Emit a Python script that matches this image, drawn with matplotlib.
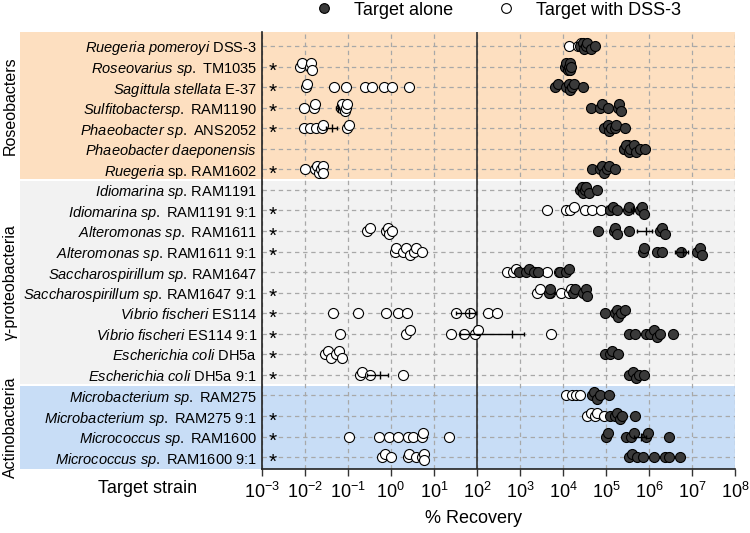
import matplotlib
matplotlib.use("Agg")
import matplotlib.pyplot as plt
from matplotlib.lines import Line2D
from matplotlib.patches import Rectangle
import numpy as np

plt.rcParams['font.family'] = ['Liberation Sans', 'DejaVu Sans']
plt.rcParams['mathtext.fontset'] = 'custom'
plt.rcParams['mathtext.rm'] = 'Liberation Sans'
plt.rcParams['mathtext.it'] = 'Liberation Sans:italic'
plt.rcParams['mathtext.bf'] = 'Liberation Sans:bold'

#----------------データ-------------------
strains = [
    r'$\mathit{Ruegeria\ pomeroyi}$ DSS-3',
    r'$\mathit{Roseovarius\ sp.}$ TM1035',
    r'$\mathit{Sagittula\ stellata}$ E-37',
    r'$\mathit{Sulfitobactersp.}$ RAM1190',
    r'$\mathit{Phaeobacter\ sp.}$ ANS2052',
    r'$\mathit{Phaeobacter\ daeponensis}$',
    r'$\mathit{Ruegeria}$ sp. RAM1602',
    r'$\mathit{Idiomarina\ sp}$. RAM1191',
    r'$\mathit{Idiomarina\ sp.}$ RAM1191 9:1',
    r'$\mathit{Alteromonas\ sp.}$ RAM1611',
    r'$\mathit{Alteromonas\ sp}$. RAM1611 9:1',
    r'$\mathit{Saccharospirillum\ sp}$. RAM1647',
    r'$\mathit{Saccharospirillum\ sp}$. RAM1647 9:1',
    r'$\mathit{Vibrio\ fischeri}$ ES114',
    r'$\mathit{Vibrio\ fischeri}$ ES114 9:1',
    r'$\mathit{Escherichia\ coli}$ DH5a',
    r'$\mathit{Escherichia\ coli}$ DH5a 9:1',
    r'$\mathit{Microbacterium\ sp.}$ RAM275',
    r'$\mathit{Microbacterium\ sp.}$ RAM275 9:1',
    r'$\mathit{Micrococcus\ sp.}$ RAM1600',
    r'$\mathit{Micrococcus\ sp.}$ RAM1600 9:1',
]

signif = [False, True, True, True, True, False, True,
          False, True, True, True, False, True, True, True, True, True,
          False, True, True, True]

groups = ['Roseobacters', 'γ-proteobacteria', 'Actinobacteria']
group_rows = [(0, 6), (7, 16), (17, 20)]
group_colors = ['#fddfc0', '#f2f2f2', '#c8ddf6']

# % recovery, target alone
alone = [
    [2.5e4, 2.9e4, 3.1e4, 3.5e4, 3.7e4, 4.4e4, 5.6e4],
    [1.1e4, 1.2e4, 1.3e4, 1.35e4, 1.45e4, 1.5e4, 1.55e4],
    [6.6e3, 7.5e3, 1.2e4, 1.35e4, 1.5e4, 1.6e4, 1.8e4, 3.0e4],
    [4.5e4, 7.4e4, 8.1e4, 1.1e5, 1.9e5, 2.0e5, 2.2e5],
    [9.1e4, 1.1e5, 1.2e5, 1.3e5, 1.65e5, 1.75e5, 2.8e5],
    [2.6e5, 3.0e5, 3.4e5, 3.7e5, 4.4e5, 5.0e5, 6.3e5, 8.1e5],
    [4.7e4, 7.1e4, 8.1e4, 9.1e4, 1.05e5, 1.2e5, 1.65e5],
    [2.5e4, 2.75e4, 3.0e4, 3.2e4, 3.5e4, 4.0e4, 6.2e4],
    [1.26e5, 1.45e5, 1.85e5, 3.2e5, 3.4e5, 6.3e5, 6.9e5, 7.8e5],
    [6.5e4, 1.55e5, 1.65e5, 1.8e5, 3.4e5, 1.8e6, 2.0e6, 2.3e6],
    [7.2e5, 7.5e5, 1.55e6, 2.0e6, 5.6e6, 1.3e7, 1.5e7, 1.7e7],
    [930, 1.4e3, 1.6e3, 2.1e3, 2.6e3, 8.7e3, 1.2e4, 1.35e4],
    [4.7e3, 5.0e3, 1.7e4, 1.95e4, 3.0e4, 3.5e4, 3.7e4],
    [9.5e4, 1.65e5, 1.8e5, 1.95e5, 2.3e5, 2.8e5],
    [3.5e5, 4.8e5, 8.5e5, 1.07e6, 1.3e6, 1.55e6, 1.8e6, 3.6e6],
    [9.3e4, 1.26e5, 1.4e5, 1.95e5],
    [3.5e5, 4.3e5, 5.0e5, 6.0e5, 7.5e5],
    [4.7e4, 5.4e4, 6.2e4, 7.4e4, 1.15e5],
    [1.26e5, 1.65e5, 1.85e5, 2.1e5, 2.35e5, 4.8e5],
    [1.0e5, 1.1e5, 3.0e5, 3.8e5, 4.4e5, 8.7e5, 9.3e5, 3.0e6],
    [3.4e5, 4.0e5, 5.2e5, 7.2e5, 1.3e6, 2.3e6, 2.9e6, 5.4e6],
]

# % recovery, target with DSS-3
with_dss3 = [
    [1.4e4, 2.2e4, 2.6e4],
    [7.8e-3, 8.5e-3, 1.3e-2, 1.4e-2, 1.45e-2],
    [1.05e-2, 1.1e-2, 4.9e-2, 8.9e-2, 0.25, 0.37, 0.71, 1.05, 2.6],
    [9.6e-3, 1.65e-2, 1.75e-2, 7.0e-2, 7.5e-2, 8.5e-2, 9.0e-2, 9.5e-2],
    [9.5e-3, 1.3e-2, 1.8e-2, 2.5e-2, 2.7e-2, 9.5e-2, 1.07e-1],
    [2.7e5, 3.2e5],
    [1.03e-2, 1.75e-2, 1.9e-2, 2.1e-2, 2.4e-2, 2.6e-2, 2.7e-2],
    [3.0e4, 3.2e4],
    [4.3e3, 1.2e4, 1.5e4, 1.8e4, 3.3e4, 4.7e4, 7.7e4, 1.26e5],
    [0.275, 0.32, 0.76, 0.85, 0.91, 1.05],
    [1.26, 1.3, 1.95, 2.3, 2.8, 3.4, 3.8, 5.2],
    [510, 710, 810, 2.3e3, 4.3e3, 8.0e3],
    [2.5e3, 2.9e3, 5.0e3, 8.9e3, 1.35e4, 1.55e4],
    [0.045, 0.17, 0.78, 1.45, 2.4, 32, 70, 185, 290],
    [0.065, 2.3, 2.8, 25, 51, 89, 105, 5.4e3],
    [0.030, 0.035, 0.041, 0.052, 0.063, 0.072],
    [0.19, 0.21, 0.32, 1.95],
    [1.2e4, 1.6e4, 2.0e4, 2.5e4],
    [3.7e4, 4.4e4, 5.6e4, 6.2e4, 9.1e4],
    [0.105, 0.54, 0.89, 1.5, 2.45, 3.25, 5.2, 5.5, 22],
    [0.61, 0.74, 1.02, 2.45, 2.6, 3.8, 5.2, 5.8, 6.0],
]

# mean ± SEM (見えているものだけ)
err_rows = [3, 4, 8, 9, 10, 13, 14, 16, 19]
err_mean = [0.058, 0.044, 4.2e5, 8.5e5, 6.2e6, 65, 650, 0.56, 6.5e5]
err_sem = [0.006, 0.013, 0.4e5, 3.3e5, 2.1e6, 33, 610, 0.28, 2.1e5]

xticks = [10.0 ** k for k in range(-3, 9)]
xticklabels = [r'$10^{%d}$' % k for k in range(-3, 9)]


def dodge(vals):
    # 近い点を少し上下にずらす
    lv = np.log10(vals)
    order = np.argsort(lv)
    offs = np.zeros(len(vals))
    pat = [0.0, -0.16, 0.16]
    k = 0
    prev = -99
    for i in order:
        if lv[i] - prev < 0.09:
            k = k + 1
        else:
            k = 0
        offs[i] = pat[k % 3]
        prev = lv[i]
    return offs


#----------------描画-------------------
fig = plt.figure(figsize=(7.5, 5.33), dpi=100)
ax = fig.add_axes([0.349, 0.120, 0.631, 0.820])
ax.patch.set_alpha(0)

ytop = -0.68
ybot = 20.58
ax.set_xscale('log')
ax.set_xlim(1e-3, 1e8)
ax.set_ylim(ybot, ytop)

# 背景の色分け
x0 = -0.511
for (r0, r1), col in zip(group_rows, group_colors):
    lo = max(r0 - 0.45, ytop) if r0 > 0 else ytop
    hi = min(r1 + 0.45, ybot) if r1 < 20 else ybot
    ax.add_patch(Rectangle((x0, lo), 1 - x0, hi - lo, transform=ax.get_yaxis_transform(),
                           facecolor=col, edgecolor='none', clip_on=False, zorder=0))

for g, (r0, r1) in zip(groups, group_rows):
    lo = r0 - 0.5 if r0 > 0 else ytop
    hi = r1 + 0.5 if r1 < 20 else ybot
    ax.text(-0.532, (lo + hi) / 2, g, transform=ax.get_yaxis_transform(), rotation=90,
            ha='center', va='center', fontsize=11.5)

ax.set_axisbelow(True)
ax.grid(True, which='major', color='#a8a8a8', ls=(0, (3.5, 3)), lw=0.9, zorder=0.5)
ax.axvline(1e2, color='#333333', lw=1.2, zorder=1)

for i in range(len(strains)):
    w = np.array(with_dss3[i])
    ax.plot(w, i + dodge(w), 'o', ms=7.2, mfc='white', mec='black', mew=0.8, ls='none', zorder=3)
    a = np.array(alone[i])
    ax.plot(a, i + dodge(a), 'o', ms=7.2, mfc='#3a3a3a', mec='black', mew=0.8, ls='none', zorder=4)

ax.errorbar(err_mean, err_rows, xerr=err_sem, fmt='|', color='black', ms=6, mew=1,
            elinewidth=1, capsize=1.5, capthick=1, zorder=5)

for i, s in enumerate(signif):
    if s:
        ax.text(1.8e-3, i + 0.25, '*', ha='center', va='center', fontsize=15)

ax.set_yticks(range(len(strains)))
ax.set_yticklabels(strains, fontsize=10.5)
ax.tick_params(axis='y', length=0, pad=3.5)
ax.set_xticks(xticks)
ax.set_xticklabels(xticklabels, fontsize=13)
ax.xaxis.set_minor_locator(matplotlib.ticker.NullLocator())
ax.tick_params(axis='x', length=5, width=1, pad=4, color='#333333')

for sp in ['top', 'right']:
    ax.spines[sp].set_visible(False)
ax.spines['left'].set_color('#222222')
ax.spines['bottom'].set_color('#222222')
ax.spines['left'].set_linewidth(1.2)
ax.spines['bottom'].set_linewidth(1.2)

fig.text(0.197, 0.084, 'Target strain', ha='center', va='center', fontsize=13)
fig.text(0.631, 0.028, '% Recovery', ha='center', va='center', fontsize=13)

handles = [Line2D([], [], marker='o', ls='none', ms=7, mfc='#3a3a3a', mec='black', mew=0.8),
           Line2D([], [], marker='o', ls='none', ms=7, mfc='white', mec='black', mew=0.8)]
fig.legend(handles, ['Target alone', 'Target with DSS-3'], loc='center',
           bbox_to_anchor=(0.664, 0.981), ncol=2, frameon=False, fontsize=13,
           handlelength=1.0, handletextpad=1.2, columnspacing=2.4)

fig.savefig('out.png', dpi=100)
